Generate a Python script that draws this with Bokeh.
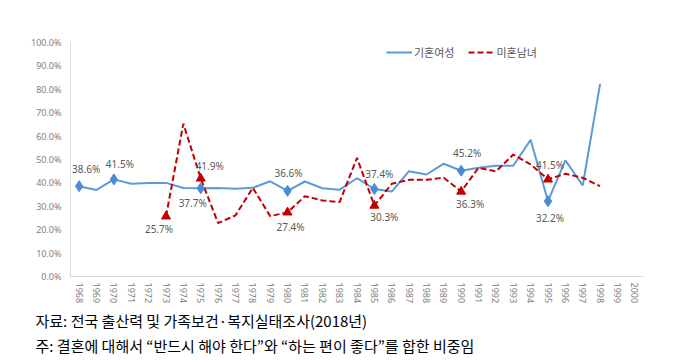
from bokeh.plotting import figure
from bokeh.models import (FactorRange, Range1d, FixedTicker, PrintfTickFormatter,
                          ColumnDataSource, LabelSet, Title, Legend, LegendItem)
from bokeh.core.properties import value
from bokeh.embed import file_html
from bokeh.resources import INLINE

years = [str(y) for y in range(1968, 2001)]

married_years = [str(y) for y in range(1968, 1999)]
married_women = [38.6, 37.0, 41.5, 39.6, 40.0, 40.0, 37.8, 37.7, 37.8, 37.5,
                 37.9, 40.7, 36.6, 40.6, 37.7, 37.1, 42.0, 37.4, 36.3, 45.0,
                 43.6, 48.2, 45.2, 46.5, 47.3, 47.3, 58.4, 32.2, 49.6, 38.9, 82.3]

single_years = [str(y) for y in range(1973, 1999)]
single_people = [25.7, 65.3, 41.9, 22.8, 26.1, 37.9, 25.8, 27.4, 34.3, 32.5,
                 31.8, 50.7, 30.3, 39.6, 41.3, 41.3, 42.2, 36.3, 46.5, 44.9,
                 52.1, 47.9, 41.5, 43.9, 42.2, 38.6]

marker_years = ["1968", "1970", "1975", "1980", "1985", "1990", "1995"]
tri_years = ["1973", "1975", "1980", "1985", "1990", "1995"]

y_ticks = list(range(0, 101, 10))

legend_labels = ["기혼여성", "미혼남녀"]
source_note = "자료: 전국 출산력 및 가족보건·복지실태조사(2018년)"
footnote = "주: 결혼에 대해서 \u201c반드시 해야 한다\u201d와 \u201c하는 편이 좋다\u201d를 합한 비중임"

BLUE = "#5B9BD5"
BLUE_M = "#4A8AD6"
RED = "#C00000"
GREY = "#595959"
NUM_FONT = "Noto Sans"
KR_FONT = "Noto Sans CJK KR"

p = figure(width=664, height=356, x_range=FactorRange(*years), y_range=Range1d(0, 100),
           output_backend="svg", toolbar_location=None,
           min_border_left=70, min_border_right=21, min_border_top=42, min_border_bottom=80)
p.outline_line_color = None
p.xgrid.visible = False
p.ygrid.visible = False
p.background_fill_color = "white"

# axes
p.yaxis.ticker = FixedTicker(ticks=y_ticks)
p.yaxis.formatter = PrintfTickFormatter(format="%.1f%%")
for ax in (p.xaxis[0], p.yaxis[0]):
    ax.axis_line_color = "#D9D9D9"
    ax.axis_line_width = 1
    ax.major_tick_line_color = None
    ax.minor_tick_line_color = None
    ax.major_tick_in = 0
    ax.major_tick_out = 0
    ax.major_label_text_color = "#808080"
    ax.major_label_text_font = NUM_FONT
    ax.major_label_text_font_size = "9px"
p.yaxis.major_label_standoff = 9
p.xaxis.major_label_standoff = 6
p.xaxis.major_label_orientation = "vertical"

src_m = ColumnDataSource(dict(x=married_years, y=married_women))
src_s = ColumnDataSource(dict(x=single_years, y=single_people))

l1 = p.line("x", "y", source=src_m, line_color=BLUE, line_width=2)
l2 = p.line("x", "y", source=src_s, line_color=RED, line_width=2, line_dash="6 3")

mm = dict(zip(married_years, married_women))
ss = dict(zip(single_years, single_people))

dm = ColumnDataSource(dict(x=marker_years, y=[mm[y] for y in marker_years]))
dt = ColumnDataSource(dict(x=tri_years, y=[ss[y] for y in tri_years]))
p.scatter("x", "y", source=dm, marker="diamond", size=11, fill_color=BLUE_M, line_color=BLUE_M)
p.scatter("x", "y", source=dt, marker="triangle", size=9, fill_color=RED, line_color=RED)

# data labels (offsets in screen px)
m_off = {"1968": (7, 17), "1970": (6, 15), "1975": (-8, -15), "1980": (1, 18),
         "1985": (5, 15), "1990": (6, 18), "1995": (2, -17)}
s_off = {"1973": (-7, -13), "1975": (9, 12), "1980": (3, -15), "1985": (10, -11),
         "1990": (9, -12), "1995": (2, 14)}

lab_x, lab_y, lab_t, lab_dx, lab_dy = [], [], [], [], []
for y in marker_years:
    lab_x.append(y); lab_y.append(mm[y]); lab_t.append(f"{mm[y]:.1f}%")
    lab_dx.append(m_off[y][0]); lab_dy.append(m_off[y][1])
for y in tri_years:
    lab_x.append(y); lab_y.append(ss[y]); lab_t.append(f"{ss[y]:.1f}%")
    lab_dx.append(s_off[y][0]); lab_dy.append(s_off[y][1])
lsrc = ColumnDataSource(dict(x=lab_x, y=lab_y, t=lab_t, dx=lab_dx, dy=lab_dy))
p.add_layout(LabelSet(x="x", y="y", text="t", source=lsrc, x_offset="dx", y_offset="dy",
                      text_align="center", text_baseline="middle",
                      text_font=value(NUM_FONT), text_font_size="10px", text_color=GREY))

legend = Legend(items=[LegendItem(label=legend_labels[0], renderers=[l1]),
                       LegendItem(label=legend_labels[1], renderers=[l2])],
                orientation="horizontal", location=(316, 216),
                padding=0, margin=0, spacing=14, label_standoff=2,
                glyph_width=26, glyph_height=14, label_height=14,
                label_text_font=KR_FONT, label_text_font_size="11px",
                label_text_color=GREY, background_fill_alpha=0,
                border_line_color=None)
p.add_layout(legend)

p.add_layout(Title(text=source_note, align="left", offset=-35, standoff=3,
                   text_font=KR_FONT, text_font_size="15px", text_font_style="normal",
                   text_color="#000000"), "below")
p.add_layout(Title(text=footnote, align="left", offset=-35, standoff=1,
                   text_font=KR_FONT, text_font_size="15px", text_font_style="normal",
                   text_color="#000000"), "below")

open("out.html", "w").write(file_html(p, INLINE))
